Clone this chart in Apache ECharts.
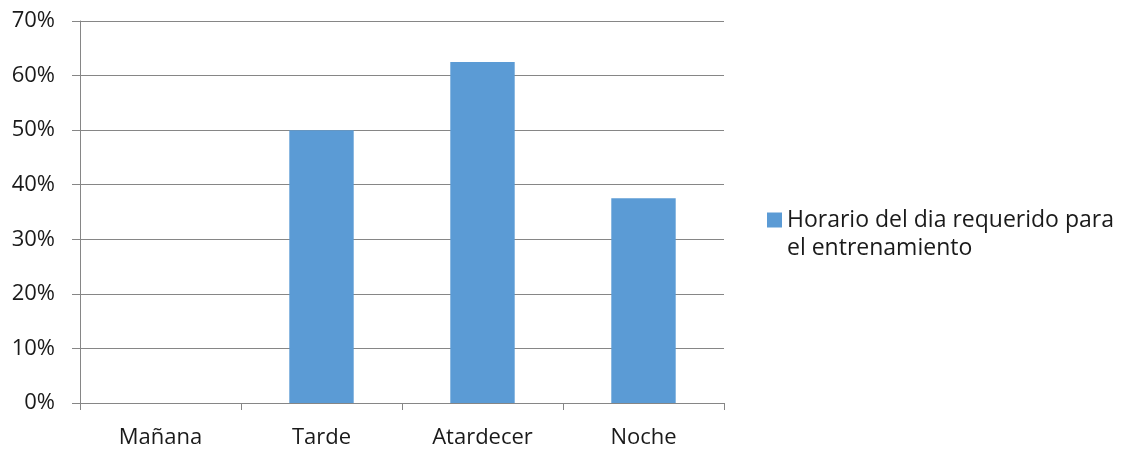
<!DOCTYPE html>
<html>
<head>
<meta charset="utf-8">
<script src="https://cdn.jsdelivr.net/npm/echarts@6/dist/echarts.min.js"></script>
<style>
  html, body { margin: 0; padding: 0; background: #fff; }
  #chart { width: 1125px; height: 451px; }
</style>
</head>
<body>
<div id="chart"></div>
<script>
// Time-of-day preference (percent of respondents)
const categories = ['Mañana', 'Tarde', 'Atardecer', 'Noche'];
const values = [0, 50, 62.5, 37.5];
const seriesName = 'Horario del dia requerido para el entrenamiento';
const legendLines = ['Horario del dia requerido para', 'el entrenamiento'];
const yTicks = [0, 10, 20, 30, 40, 50, 60, 70];

const FONT = '"Open Sans", sans-serif';
const TEXT = '#1a1a1a';
const chart = echarts.init(document.getElementById('chart'));

chart.setOption({
  animation: false,
  backgroundColor: '#ffffff',
  grid: { left: 80, right: 401, top: 21, bottom: 48, containLabel: false },
  legend: {
    data: [seriesName],
    left: 767,
    top: 178,
    padding: 0,
    orient: 'vertical',
    icon: 'rect',
    itemWidth: 15,
    itemHeight: 15,
    // leading blank line keeps the swatch level with the first text line
    formatter: () => '\n' + legendLines.join('\n'),
    textStyle: {
      fontFamily: FONT,
      fontSize: 23,
      color: TEXT,
      lineHeight: 28
    }
  },
  xAxis: {
    type: 'category',
    data: categories,
    axisLine: { show: true, lineStyle: { color: '#868686', width: 1 } },
    axisTick: { show: true, alignWithLabel: false, length: 7, lineStyle: { color: '#868686' } },
    axisLabel: { margin: 24, fontFamily: FONT, fontSize: 22, color: TEXT },
    splitLine: { show: false }
  },
  yAxis: {
    type: 'value',
    min: yTicks[0],
    max: yTicks[yTicks.length - 1],
    interval: 10,
    axisLine: { show: true, lineStyle: { color: '#868686', width: 1 } },
    axisTick: { show: true, length: 8, lineStyle: { color: '#868686' } },
    axisLabel: {
      margin: 25,
      fontFamily: FONT,
      fontSize: 22,
      color: TEXT,
      formatter: v => v + '%'
    },
    splitLine: { show: true, lineStyle: { color: '#868686', width: 1 } }
  },
  series: [{
    name: seriesName,
    type: 'bar',
    data: values,
    barWidth: '40%',
    itemStyle: { color: '#5B9BD5' }
  }]
});
</script>
</body>
</html>
